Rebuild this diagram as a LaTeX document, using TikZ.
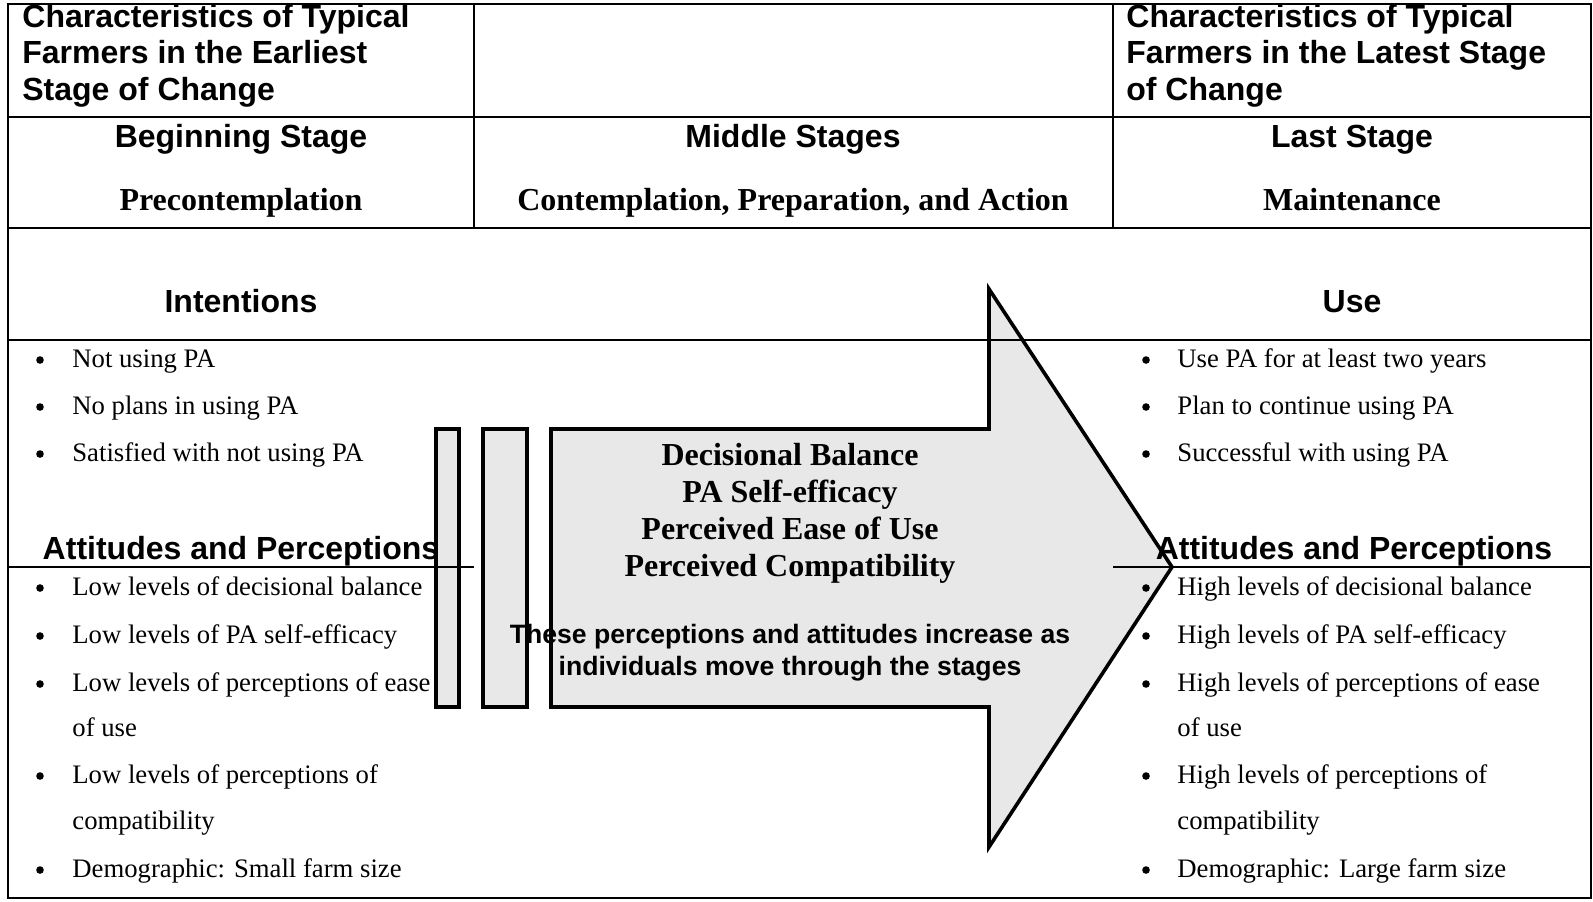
\documentclass[tikz,border=0pt]{standalone}
\usepackage{fontspec}
\setmainfont{Liberation Serif}
\setsansfont{Liberation Sans}
\usetikzlibrary{positioning}

\tikzset{
	colhead/.style={font=\sffamily\bfseries\fontsize{16}{18.5}\selectfont, inner sep=0pt},
	stagename/.style={font=\rmfamily\bfseries\fontsize{16}{18.5}\selectfont, inner sep=0pt},
	bullettext/.style={font=\rmfamily\fontsize{13.35}{16}\selectfont, inner sep=0pt, anchor=base west},
	bulletmark/.style={circle, fill, inner sep=0pt, minimum size=3.8pt},
	tabline/.style={line width=1pt},
	greyfill/.style={draw, line width=1.8pt, fill=black!9, line join=miter},
}

\begin{document}
\begin{tikzpicture}[x=0.5pt, y=-0.5pt]
	\useasboundingbox (0,0) rectangle (1593,901);

	% arrow and the two bars
	\path[greyfill] (551,429) -- (989,429) -- (989,289) -- (1172,567) -- (989,847) -- (989,707) -- (551,707) -- cycle;
	\path[greyfill] (436,429) rectangle (459,707);
	\path[greyfill] (483,429) rectangle (527,707);

	% table
	\draw[tabline] (8,4) rectangle (1591,898);
	\draw[tabline] (8,117) -- (1591,117);
	\draw[tabline] (8,228) -- (1591,228);
	\draw[tabline] (8,340) -- (1591,340);
	\draw[tabline] (8,567) -- (474,567);
	\draw[tabline] (1113,567) -- (1591,567);
	\draw[tabline] (474,4) -- (474,228);
	\draw[tabline] (1113,4) -- (1113,228);

	% top row
	\foreach \n/\y/\t in {1/27/Characteristics of Typical, 2/63/Farmers in the Earliest, 3/100/Stage of Change}
		\node (early\n) [colhead, anchor=base west] at (22,\y) {\t};
	\foreach \n/\y/\t in {1/27/Characteristics of Typical, 2/63/Farmers in the Latest Stage, 3/100/of Change}
		\node (late\n) [colhead, anchor=base west] at (1126,\y) {\t};

	% stages
	\node (begin) [colhead, anchor=base] at (241,147) {Beginning Stage};
	\node (middle) [colhead, anchor=base] at (793,147) {Middle Stages};
	\node (last) [colhead, anchor=base] at (1352,147) {Last Stage};
	\node (precon) [stagename, anchor=base] at (241,210) {Precontemplation};
	\node (cpa) [stagename, anchor=base] at (793,210) {Contemplation, Preparation, and Action};
	\node (maint) [stagename, anchor=base] at (1352,210) {Maintenance};

	\node (intent) [colhead, anchor=base] at (241,312) {Intentions};
	\node (use) [colhead, anchor=base] at (1352,312) {Use};

	% bullets
	\foreach \n/\y/\t/\b in {1/367/Not using PA/1, 2/414/No plans in using PA/1, 3/461/Satisfied with not using PA/1,
		4/595/Low levels of decisional balance/1, 5/643/Low levels of PA self-efficacy/1,
		6/691/Low levels of perceptions of ease/1, 7/736/of use/0,
		8/783/Low levels of perceptions of/1, 9/829/compatibility/0, 10/877/Demographic: Small farm size/1} {
		\node (lt\n) [bullettext] at (72,\y) {\t};
		\ifnum\b=1 \node (lb\n) [bulletmark] at (40,\y-7) {}; \fi
	}
	\foreach \n/\y/\t/\b in {1/367/Use PA for at least two years/1, 2/414/Plan to continue using PA/1, 3/461/Successful with using PA/1,
		4/595/High levels of decisional balance/1, 5/643/High levels of PA self-efficacy/1,
		6/691/High levels of perceptions of ease/1, 7/736/of use/0,
		8/783/High levels of perceptions of/1, 9/829/compatibility/0, 10/877/Demographic: Large farm size/1} {
		\node (rt\n) [bullettext] at (1177,\y) {\t};
		\ifnum\b=1 \node (rb\n) [bulletmark] at (1146,\y-7) {}; \fi
	}

	\node (attl) [colhead, anchor=base] at (241,559) {Attitudes and Perceptions};
	\node (attr) [colhead, anchor=base] at (1354,559) {Attitudes and Perceptions};

	% text in the arrow
	\foreach \n/\y/\t in {1/465/Decisional Balance, 2/502/PA Self-efficacy, 3/539/Perceived Ease of Use, 4/576/Perceived Compatibility}
		\node (fac\n) [stagename, anchor=base] at (790,\y) {\t};
	\node (incr1) [colhead, anchor=base, font=\sffamily\bfseries\fontsize{13.3}{15.5}\selectfont] at (790,643) {These perceptions and attitudes increase as};
	\node (incr2) [colhead, anchor=base, font=\sffamily\bfseries\fontsize{13.3}{15.5}\selectfont] at (790,675) {individuals move through the stages};
\end{tikzpicture}
\end{document}
